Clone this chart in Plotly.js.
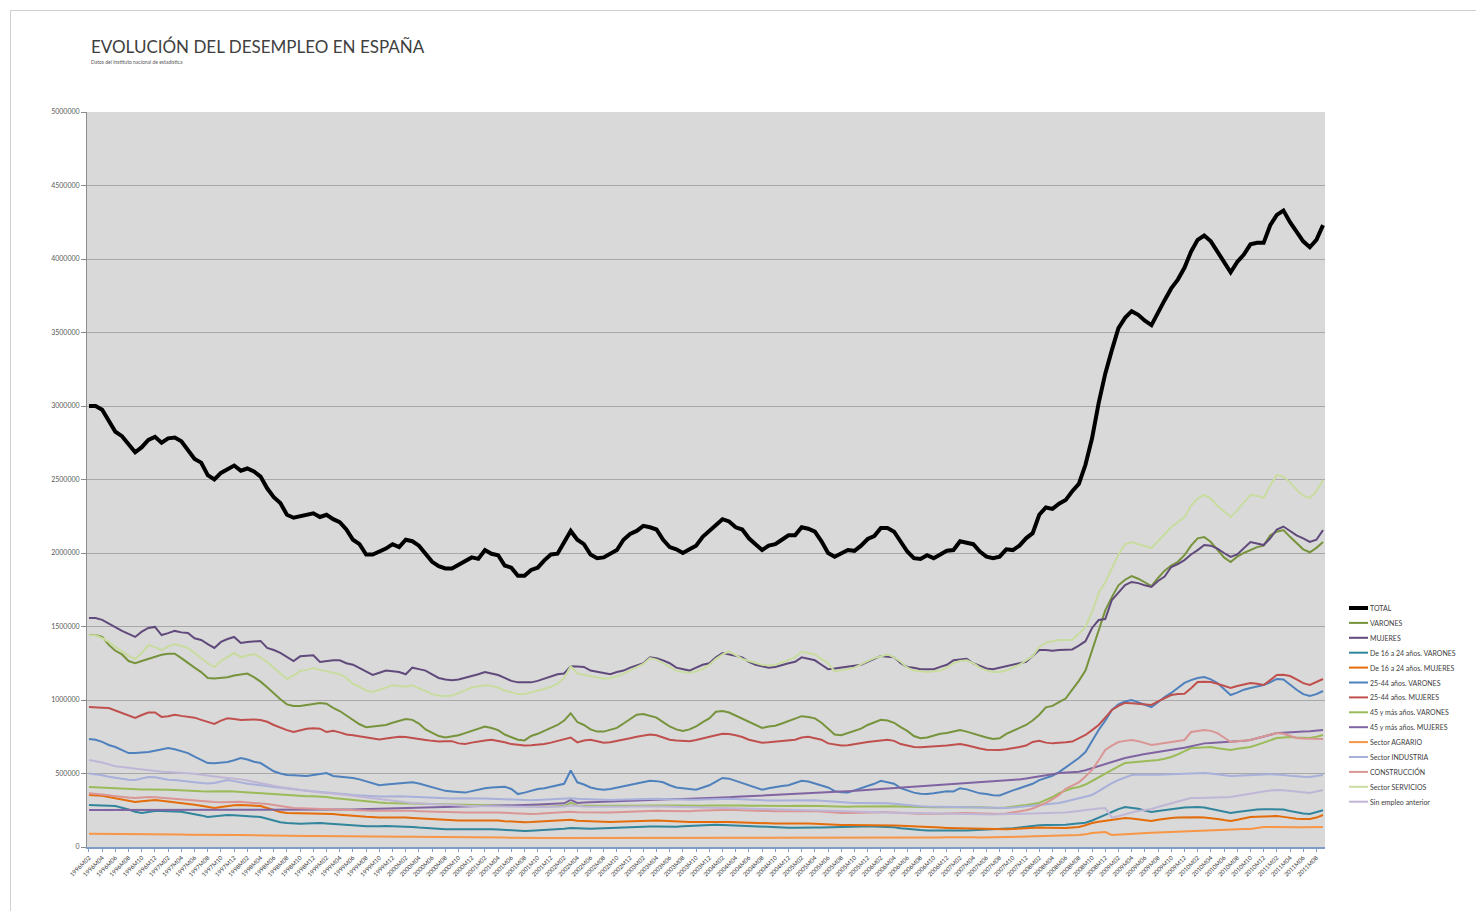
<!DOCTYPE html>
<html>
<head>
<meta charset="utf-8">
<script src="https://cdn.plot.ly/plotly-3.0.1.min.js"></script>
<style>
html,body{margin:0;padding:0;background:#fff;}
#frame{position:absolute;left:10px;top:10px;width:1480px;height:920px;border:1px solid #d0d0d0;pointer-events:none;}
#chart{position:absolute;left:0;top:0;width:1476px;height:911px;}
</style>
</head>
<body>
<div id="chart"></div>
<div id="frame"></div>
<script>
// Monthly series, values in thousands of persons
const startYear = 1996, startMonth = 2, nMonths = 188;

const TOTAL = [
3000,3000,2975,2895,2825,2795,2735,2685,2720,2770,
2790,2750,2780,2785,2760,2700,2640,2615,2530,2500,
2545,2570,2595,2560,2575,2555,2520,2440,2380,2340,
2260,2240,2250,2265,2270,2245,2260,2230,2210,2160,
2090,2060,1990,1990,2010,2030,2060,2040,2090,2080,
2050,1990,1940,1910,1895,1895,1920,1950,1970,1960,
2020,1995,1985,1915,1900,1845,1845,1885,1900,1950,
1990,1995,2070,2150,2090,2060,1990,1965,1970,1995,
2020,2090,2130,2150,2185,2175,2160,2090,2040,2025,
2000,2025,2050,2110,2150,2190,2230,2215,2175,2160,
2100,2060,2020,2050,2060,2090,2120,2120,2175,2165,
2145,2080,2000,1975,1995,2020,2015,2050,2095,2115,
2170,2170,2145,2080,2010,1965,1960,1985,1965,1990,
2015,2020,2080,2070,2060,2010,1975,1965,1975,2025,
2020,2050,2100,2135,2260,2310,2300,2335,2360,2420,
2470,2600,2780,3020,3220,3380,3530,3600,3645,3620,
3580,3550,3640,3720,3800,3860,3940,4050,4130,4160,
4120,4050,3970,3910,3980,4030,4100,4110,4110,4230,
4300,4330,4250,4180,4120,4080,4130,4230];

const VARONES = [
1442,1442,1430,1375,1335,1310,1265,1250,1265,1280,
1293,1308,1315,1315,1285,1250,1220,1190,1150,1146,
1150,1155,1166,1172,1180,1155,1125,1086,1045,1005,
970,960,960,965,975,980,975,946,925,895,
860,835,815,820,825,830,845,860,870,865,
840,800,775,755,745,750,760,775,790,800,
820,810,795,765,745,730,725,755,770,790,
810,830,860,910,850,830,800,785,785,800,
810,840,870,900,905,895,880,850,820,800,
790,800,820,850,875,920,925,915,895,875,
855,830,810,820,825,840,855,870,890,885,
875,845,805,765,760,775,785,805,830,850,
865,860,845,815,790,755,740,745,760,770,
775,785,795,785,770,760,745,735,740,770,
790,805,830,860,900,950,960,985,1010,1070,
1130,1200,1340,1480,1610,1700,1780,1818,1843,1825,
1800,1775,1830,1880,1915,1940,1985,2050,2100,2109,
2075,2020,1970,1939,1975,2000,2020,2040,2050,2120,
2145,2156,2110,2070,2025,2005,2035,2075];

const MUJERES = [
1558,1558,1545,1520,1490,1470,1450,1429,1465,1490,
1497,1442,1455,1470,1460,1456,1420,1408,1380,1354,
1395,1415,1429,1388,1395,1400,1402,1354,1340,1320,
1290,1265,1297,1300,1304,1259,1265,1270,1270,1250,
1240,1215,1190,1170,1185,1200,1195,1190,1175,1220,
1210,1200,1175,1150,1140,1135,1140,1150,1160,1175,
1190,1180,1170,1150,1130,1120,1118,1120,1130,1145,
1160,1175,1180,1230,1228,1225,1200,1190,1180,1175,
1190,1200,1220,1235,1250,1290,1285,1270,1250,1220,
1210,1200,1220,1240,1250,1290,1320,1310,1300,1290,
1260,1240,1230,1220,1225,1240,1250,1260,1290,1280,
1270,1240,1210,1215,1220,1225,1230,1240,1260,1280,
1300,1295,1290,1250,1225,1220,1210,1210,1210,1225,
1240,1270,1275,1280,1250,1230,1215,1210,1220,1235,
1240,1250,1260,1300,1340,1340,1335,1340,1340,1344,
1370,1400,1490,1544,1551,1680,1730,1782,1803,1795,
1780,1769,1810,1840,1905,1925,1952,1990,2020,2054,
2050,2030,2000,1973,1990,2030,2075,2065,2054,2100,
2160,2180,2150,2120,2100,2075,2090,2156];

const V_16_24 = [
286,286,283,281,279,268,255,240,231,238,
245,245,244,245,240,231,225,215,204,210,
214,218,216,213,211,208,204,192,178,168,
163,160,159,160,162,163,160,156,154,150,
148,145,142,140,141,143,142,140,138,136,
132,128,125,123,121,120,121,122,121,120,
122,121,119,116,113,110,109,111,113,116,
118,120,124,130,127,125,124,126,128,130,
131,133,135,137,138,140,139,137,136,138,
141,144,147,150,151,152,150,148,146,143,
140,137,135,134,133,132,131,131,130,131,
132,133,135,137,138,139,140,140,141,140,
140,138,134,128,122,118,115,113,112,111,
110,111,112,113,115,117,118,119,120,123,
127,132,138,144,148,150,150,150,152,156,
160,165,180,197,218,238,258,272,268,260,
248,238,245,252,259,265,268,270,272,268,
259,250,240,231,238,245,252,255,257,258,
259,255,245,235,228,224,235,250];

const M_16_24 = [
354,352,348,340,332,322,314,306,312,318,
320,315,310,305,298,294,288,280,270,265,
272,280,284,286,284,282,279,265,250,238,
231,230,231,232,231,228,226,224,220,215,
212,210,206,202,200,201,202,201,200,198,
195,192,188,185,183,181,180,180,181,182,
183,182,180,176,172,170,169,170,172,175,
178,180,182,186,178,176,174,172,170,170,
172,174,176,178,180,181,180,178,175,173,
171,170,170,171,172,173,172,170,168,166,
164,162,160,160,160,160,161,162,162,160,
158,155,152,150,150,150,150,151,151,150,
149,148,147,145,142,140,138,136,134,132,
130,129,128,127,125,123,121,120,120,121,
123,126,129,131,132,131,130,129,130,133,
136,148,163,172,178,184,190,197,194,188,
182,177,185,192,197,200,202,204,203,200,
197,190,183,177,185,195,204,206,208,210,
211,205,197,193,191,190,200,218];

const V_25_44 = [
735,730,715,694,680,660,639,640,643,646,
655,662,673,665,650,639,615,595,571,570,
575,578,590,605,595,580,571,545,515,500,
490,488,485,483,490,498,503,483,480,478,
470,460,445,430,420,425,428,430,435,440,
432,420,410,395,382,378,372,370,380,392,
400,404,408,410,395,360,370,385,395,400,
410,420,430,520,440,425,405,395,390,395,
405,410,420,430,445,450,448,440,420,405,
400,395,390,405,420,445,470,465,450,440,
420,405,390,400,410,415,420,435,450,445,
430,420,405,380,372,370,385,400,410,430,
450,440,430,400,385,370,362,360,365,370,
380,378,400,392,380,365,360,352,350,370,
385,400,415,430,455,470,485,510,540,571,
605,646,720,796,860,932,970,990,1000,985,
965,952,985,1020,1048,1080,1116,1135,1150,1156,
1140,1116,1075,1034,1050,1070,1082,1090,1102,1120,
1143,1140,1102,1070,1040,1027,1040,1061];

const M_25_44 = [
952,952,948,946,930,912,895,878,898,915,
915,885,890,900,892,886,880,865,850,837,
860,875,870,864,866,868,864,852,830,810,
795,782,795,805,808,805,782,790,780,765,
760,752,745,740,732,738,745,750,748,740,
735,728,722,718,720,720,705,700,710,720,
725,730,722,712,700,695,690,692,695,700,
710,720,735,745,712,725,730,718,710,712,
720,728,740,750,760,765,760,745,730,725,
722,720,728,740,748,760,770,768,760,748,
730,720,710,712,716,720,725,730,745,750,
740,730,705,695,690,692,700,710,715,720,
725,730,722,700,690,680,678,680,682,686,
690,695,700,692,680,670,662,660,660,665,
670,680,690,715,722,710,705,707,712,717,
740,762,795,830,880,932,960,980,978,975,
970,966,990,1012,1034,1040,1043,1080,1122,1125,
1122,1110,1095,1082,1095,1108,1116,1110,1102,1135,
1170,1172,1163,1140,1115,1102,1120,1143];

const V_45 = [
408,406,403,400,397,394,392,390,391,392,
393,392,390,388,385,383,381,379,378,380,
381,380,378,375,373,370,367,364,360,356,
352,348,346,345,345,343,340,333,328,324,
320,315,310,306,303,300,299,298,297,296,
294,292,290,288,286,285,284,283,282,282,
282,282,281,280,279,278,277,276,275,275,
276,278,280,300,282,281,280,279,279,280,
281,282,283,284,285,285,284,283,282,281,
280,280,280,281,282,283,284,284,283,282,
281,280,278,277,277,278,279,280,281,281,
280,279,277,275,274,274,275,276,277,278,
279,279,278,276,274,272,271,270,270,270,
271,272,273,273,272,270,268,266,266,268,
272,278,285,292,300,320,340,367,385,400,
408,425,449,475,500,524,548,571,575,580,
582,585,592,600,612,630,650,673,676,678,
680,672,666,660,668,675,680,695,710,725,
741,745,748,745,742,741,750,762];

const M_45 = [
252,252,251,251,250,250,250,251,252,252,
252,252,252,251,251,251,250,250,250,251,
252,252,253,253,253,253,253,252,252,252,
252,253,253,254,254,254,253,252,253,254,
255,256,257,258,259,260,261,262,263,264,
265,266,267,268,269,270,271,272,274,276,
278,280,281,282,283,284,285,287,289,291,
293,295,297,320,300,302,304,306,308,310,
312,314,316,318,320,322,323,324,325,326,
327,328,329,331,333,335,337,339,341,343,
345,347,349,351,353,355,357,359,361,363,
366,369,371,374,377,380,383,386,389,392,
395,398,401,404,407,410,413,416,419,422,
425,428,431,434,436,438,440,443,446,450,
455,460,466,472,480,488,495,503,506,510,
512,522,537,550,565,578,592,605,615,625,
632,639,645,652,660,668,675,685,695,705,
708,710,712,714,718,722,728,740,755,765,
775,778,782,784,786,788,790,796];

const AGRARIO = [
90,90,89,88,87,86,85,85,86,87,
87,86,86,85,85,84,83,83,82,82,
83,83,82,81,80,79,78,77,76,76,
76,75,75,75,75,75,75,75,74,73,
72,71,70,70,70,70,70,70,70,69,
69,68,68,67,67,66,66,66,66,66,
66,66,65,64,63,62,62,62,62,62,
62,62,63,64,63,63,63,62,62,62,
62,62,62,62,62,62,62,61,61,61,
60,60,61,62,62,62,61,60,60,60,
60,60,61,62,63,63,62,61,61,61,
62,63,63,64,64,63,62,62,62,63,
64,65,65,65,64,63,63,63,64,65,
66,67,67,67,66,65,65,65,66,67,
68,70,71,72,73,73,74,75,76,78,
82,86,95,98,102,82,85,88,92,95,
96,97,98,100,102,105,108,110,113,115,
116,118,119,120,121,122,122,128,136,136,
137,136,136,135,134,134,135,136];

const INDUSTRIA = [
500,495,488,478,470,462,458,456,466,476,
474,466,458,456,450,444,440,436,432,435,
445,456,448,438,430,426,422,415,408,402,
398,392,388,383,378,374,372,367,362,358,
354,350,346,344,343,344,346,346,344,342,
340,337,334,331,330,330,331,332,332,331,
330,329,327,324,321,318,317,318,320,323,
325,327,329,331,328,326,324,322,320,320,
321,323,325,327,328,329,328,326,324,322,
321,321,322,324,326,328,330,329,327,324,
321,318,316,316,317,318,319,320,321,320,
318,315,311,307,303,301,300,300,300,300,
300,298,294,289,284,280,277,275,274,273,
273,273,273,272,270,268,266,265,265,266,
268,272,276,280,285,290,294,299,310,320,
335,345,354,380,410,435,456,475,490,492,
491,490,492,494,496,498,500,501,503,503,
500,496,490,483,485,488,490,492,494,495,
494,490,485,480,478,476,482,490];

const CONSTRUCCION = [
365,362,358,352,346,340,336,334,338,340,
338,334,332,330,326,322,318,314,310,306,
304,306,310,307,303,300,298,292,285,278,
272,266,264,262,260,258,256,254,252,250,
249,248,247,246,246,247,248,248,247,246,
244,242,240,238,236,235,234,234,234,235,
236,236,235,233,230,227,225,225,226,228,
230,232,234,240,236,235,234,233,233,234,
236,238,240,242,244,246,246,245,244,243,
243,244,246,248,250,252,253,253,252,250,
248,246,244,243,243,244,245,246,247,246,
244,241,237,234,232,231,231,232,233,234,
236,237,236,234,231,228,226,225,225,226,
228,230,231,231,230,228,226,225,225,228,
235,242,250,262,280,300,325,354,395,420,
440,480,524,590,660,690,714,722,728,720,
705,694,700,708,714,720,728,782,790,796,
790,775,745,714,720,725,728,740,752,765,
775,770,755,741,738,736,735,735];

const SERVICIOS = [
1440,1440,1420,1395,1361,1330,1300,1279,1320,1374,
1360,1340,1365,1381,1370,1354,1320,1286,1250,1224,
1265,1292,1320,1292,1300,1313,1290,1259,1220,1180,
1143,1165,1197,1205,1218,1205,1195,1190,1175,1150,
1110,1090,1065,1055,1070,1085,1100,1095,1090,1100,
1080,1060,1040,1030,1025,1030,1045,1065,1085,1090,
1100,1095,1085,1065,1050,1040,1040,1050,1060,1075,
1090,1110,1150,1230,1180,1170,1160,1150,1145,1150,
1160,1180,1200,1220,1245,1285,1275,1250,1225,1200,
1190,1185,1195,1210,1240,1280,1310,1330,1305,1280,
1265,1250,1240,1235,1240,1255,1270,1290,1330,1320,
1310,1280,1250,1195,1200,1210,1220,1245,1265,1285,
1300,1310,1290,1260,1220,1200,1195,1190,1195,1200,
1220,1250,1265,1270,1250,1220,1200,1190,1190,1200,
1220,1240,1270,1300,1360,1390,1400,1408,1408,1408,
1450,1497,1600,1728,1800,1900,1990,2060,2075,2060,
2045,2034,2080,2130,2177,2210,2245,2320,2370,2395,
2370,2320,2280,2245,2290,2340,2395,2390,2374,2460,
2531,2520,2480,2430,2390,2374,2420,2497];

const SIN_EMPLEO = [
592,585,575,562,550,544,538,532,526,520,
516,512,510,508,505,503,498,492,485,478,
474,470,466,460,452,442,434,425,416,408,
401,395,389,383,377,371,368,365,360,354,
348,342,336,330,324,318,313,308,304,300,
297,294,291,288,286,284,282,280,279,278,
277,276,275,274,273,272,271,271,271,272,
273,274,276,282,276,275,274,273,272,272,
273,274,275,276,277,277,276,275,274,272,
271,270,270,269,268,268,267,266,265,264,
262,260,258,257,256,256,255,255,254,253,
251,249,247,245,243,241,240,239,238,237,
236,235,234,232,230,228,227,226,225,225,
224,224,224,224,223,222,221,221,222,223,
224,225,226,227,228,229,230,231,235,240,
246,252,259,262,265,200,210,225,235,245,
252,259,272,286,299,310,322,333,333,333,
333,336,338,340,348,356,367,372,378,384,
388,386,381,375,370,367,378,388];

// Category labels (yyyyMmm)
const MONTHS = [];
for (let k = 0; k < nMonths; k++) {
  const m0 = startMonth - 1 + k;
  const y = startYear + Math.floor(m0 / 12);
  const m = (m0 % 12) + 1;
  MONTHS.push(y + 'M' + (m < 10 ? '0' + m : m));
}
const TICK_LABELS = MONTHS.filter((_, k) => k % 2 === 0);

const SERIES = [
  {name: 'TOTAL', data: TOTAL, color: '#000000', width: 4},
  {name: 'VARONES', data: VARONES, color: '#77933C', width: 2},
  {name: 'MUJERES', data: MUJERES, color: '#604A7B', width: 2},
  {name: 'De 16 a 24 años. VARONES', data: V_16_24, color: '#31859C', width: 2},
  {name: 'De 16 a 24 años. MUJERES', data: M_16_24, color: '#E46C0A', width: 2},
  {name: '25-44 años. VARONES', data: V_25_44, color: '#4F81BD', width: 2},
  {name: '25-44 años. MUJERES', data: M_25_44, color: '#C0504D', width: 2},
  {name: '45 y más años. VARONES', data: V_45, color: '#9BBB59', width: 2},
  {name: '45 y más años. MUJERES', data: M_45, color: '#8064A2', width: 2},
  {name: 'Sector AGRARIO', data: AGRARIO, color: '#F79646', width: 2},
  {name: 'Sector INDUSTRIA', data: INDUSTRIA, color: '#A9B0DA', width: 2},
  {name: 'CONSTRUCCIÓN', data: CONSTRUCCION, color: '#D99694', width: 2},
  {name: 'Sector SERVICIOS', data: SERVICIOS, color: '#C9DCA0', width: 2},
  {name: 'Sin empleo anterior', data: SIN_EMPLEO, color: '#BFB6D6', width: 2}
];

const traces = SERIES.map(s => ({
  type: 'scatter', mode: 'lines', name: s.name, showlegend: false,
  x: MONTHS, y: s.data.map(v => v * 1000),
  line: {color: s.color, width: s.width}
}));
// draw TOTAL on top
const ordered = traces.slice(1).concat([traces[0]]);

// Legend drawn at the right of the plot (paper coords)
const PLOT_L = 87, PLOT_R = 1325, PLOT_T = 112, PLOT_B = 847;
const px2x = p => (p - PLOT_L) / (PLOT_R - PLOT_L);
const px2y = p => (PLOT_B - p) / (PLOT_B - PLOT_T);
const LEG_TOP = 608, LEG_STEP = 14.9;
const legendShapes = [], legendAnn = [];
SERIES.forEach((s, k) => {
  const yy = px2y(LEG_TOP + k * LEG_STEP);
  legendShapes.push({type: 'line', xref: 'paper', yref: 'paper',
    x0: px2x(1349), x1: px2x(1368), y0: yy, y1: yy,
    line: {color: s.color, width: s.width === 4 ? 4 : 2}});
  legendAnn.push({xref: 'paper', yref: 'paper', x: px2x(1368), y: yy,
    xanchor: 'left', yanchor: 'middle', text: s.name, showarrow: false,
    font: {size: 7, color: '#404040'}});
});

const layout = {
  width: 1476, height: 911,
  paper_bgcolor: '#ffffff', plot_bgcolor: '#D9D9D9',
  margin: {l: PLOT_L, r: 1476 - PLOT_R, t: PLOT_T, b: 911 - PLOT_B},
  font: {family: 'Lato, "Open Sans", sans-serif', color: '#404040'},
  showlegend: false,
  xaxis: {
    type: 'category', range: [-0.3, nMonths - 0.7],
    tickmode: 'array', tickvals: TICK_LABELS, ticktext: TICK_LABELS,
    tickangle: -45, tickfont: {size: 6, color: '#303030'},
    showgrid: false, showline: true, linecolor: '#7F9CC8', linewidth: 2,
    ticks: 'outside', ticklen: 3, tickcolor: '#7F9CC8', zeroline: false
  },
  yaxis: {
    range: [0, 5000000], dtick: 500000, tickformat: 'd',
    tickfont: {size: 7, color: '#595959'},
    showgrid: true, gridcolor: '#A8A8A8', gridwidth: 1,
    showline: true, linecolor: '#8C8C8C', linewidth: 1,
    ticks: 'outside', ticklen: 5, tickcolor: '#8C8C8C', zeroline: false
  },
  shapes: legendShapes,
  annotations: [
    {xref: 'paper', yref: 'paper', x: px2x(89), y: px2y(47), xanchor: 'left', yanchor: 'middle',
     text: 'EVOLUCIÓN DEL DESEMPLEO EN ESPAÑA', showarrow: false,
     font: {size: 17, color: '#404040', family: 'Lato, "Open Sans", sans-serif'}},
    {xref: 'paper', yref: 'paper', x: px2x(89), y: px2y(62), xanchor: 'left', yanchor: 'middle',
     text: 'Datos del Instituto nacional de estadística', showarrow: false,
     font: {size: 5, color: '#595959'}}
  ].concat(legendAnn)
};

Plotly.newPlot('chart', ordered, layout, {staticPlot: true, displayModeBar: false});
</script>
</body>
</html>
